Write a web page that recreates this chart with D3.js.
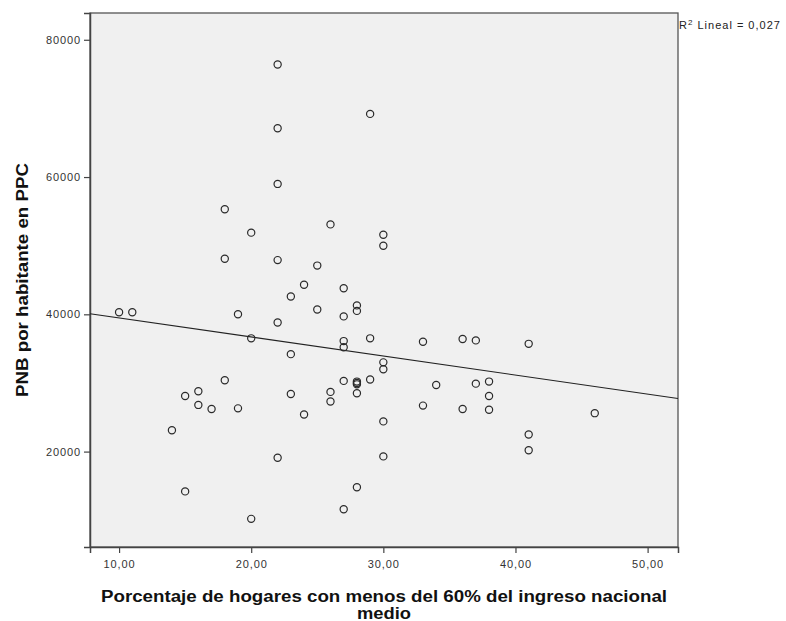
<!DOCTYPE html>
<html>
<head>
<meta charset="utf-8">
<script src="https://cdn.jsdelivr.net/npm/d3@7"></script>
<style>
  body { margin: 0; background: #fff; }
  text { font-family: "Liberation Sans", Arial, sans-serif; }
</style>
</head>
<body>
<div id="scatter"></div>
<script>
// Porcentaje de hogares con menos del 60% del ingreso nacional medio
var pctHogares = [10, 11, 14, 15, 15, 16, 16, 17, 18, 18, 18, 19, 19, 20, 20, 20,
    22, 22, 22, 22, 22, 22, 23, 23, 23, 24, 24, 25, 25, 26, 26, 26,
    27, 27, 27, 27, 27, 27, 28, 28, 28, 28, 28, 28, 28, 29, 29, 29,
    30, 30, 30, 30, 30, 30, 33, 33, 34, 36, 36, 37, 37, 38, 38, 38,
    41, 41, 41, 46];

// PNB por habitante en PPC
var pnbPPC = [40300, 40300, 23100, 28100, 14200, 28800, 26800, 26200, 55300, 48100, 30400, 40000, 26300, 51900, 36500, 10200,
    76400, 67100, 59000, 47900, 38800, 19100, 42600, 34200, 28400, 44300, 25400, 47100, 40700, 53100, 28700, 27300,
    43800, 39700, 36100, 35200, 30300, 11600, 41300, 40500, 30200, 30000, 29800, 28500, 14800, 69200, 36500, 30500,
    51600, 50000, 33000, 32000, 24400, 19300, 36000, 26700, 29700, 36400, 26200, 36200, 29900, 30200, 28100, 26100,
    35700, 22500, 20200, 25600];

var xTicks = [10, 20, 30, 40, 50];
var yTicks = [20000, 40000, 60000, 80000];
var xDomain = [7.8, 52.3];
var yDomain = [6100, 83900];
var r2Label = "0,027";

var margin = { top: 13, right: 108, bottom: 74, left: 90 },
    width = 786 - margin.left - margin.right,
    height = 621 - margin.top - margin.bottom;

var svg = d3.select("#scatter")
    .append("svg")
    .attr("width", 786)
    .attr("height", 621)
    .append("g")
    .attr("transform", "translate(" + margin.left + "," + margin.top + ")");

var x = d3.scaleLinear().domain(xDomain).range([0, width]);
var y = d3.scaleLinear().domain(yDomain).range([height, 0]);

// plot background
svg.append("rect")
    .attr("width", width)
    .attr("height", height)
    .attr("fill", "#f0f0f0")
    .attr("stroke", "#555")
    .attr("stroke-width", 1.3);

var commaFmt = function(d) { return d3.format(".2f")(d).replace(".", ","); };

// X axis
var xAxis = svg.append("g")
    .attr("transform", "translate(0," + height + ")")
    .call(d3.axisBottom(x).tickValues(xTicks).tickFormat(commaFmt).tickSize(6).tickPadding(7));

// Y axis
var yAxis = svg.append("g")
    .call(d3.axisLeft(y).tickValues(yTicks).tickFormat(d3.format("d")).tickSize(6).tickPadding(3));

[xAxis, yAxis].forEach(function(a) {
    a.select(".domain").attr("stroke", "#444").attr("stroke-width", 1.5);
    a.selectAll(".tick line").attr("stroke", "#444").attr("stroke-width", 1.2);
    a.selectAll(".tick text")
        .attr("fill", "#333")
        .style("font-size", "11px")
        .style("letter-spacing", "0.9px");
});

// fit line (least squares)
var n = pctHogares.length;
var mx = d3.mean(pctHogares), my = d3.mean(pnbPPC);
var sxy = 0, sxx = 0;
for (var i = 0; i < n; i++) {
    sxy += (pctHogares[i] - mx) * (pnbPPC[i] - my);
    sxx += (pctHogares[i] - mx) * (pctHogares[i] - mx);
}
var slope = sxy / sxx, intercept = my - slope * mx;

svg.append("line")
    .attr("x1", x(xDomain[0]))
    .attr("y1", y(intercept + slope * xDomain[0]))
    .attr("x2", x(xDomain[1]))
    .attr("y2", y(intercept + slope * xDomain[1]))
    .attr("stroke", "#222")
    .attr("stroke-width", 1.1);

// points
svg.selectAll("circle.pt")
    .data(pctHogares.map(function(d, i) { return { x: d, y: pnbPPC[i] }; }))
    .enter()
    .append("circle")
    .attr("class", "pt")
    .attr("cx", function(d) { return x(d.x); })
    .attr("cy", function(d) { return y(d.y); })
    .attr("r", 3.6)
    .attr("fill", "none")
    .attr("stroke", "#2a2a2a")
    .attr("stroke-width", 1.2);

// R2 label
var r2 = svg.append("text")
    .attr("x", width + 1)
    .attr("y", 16)
    .attr("fill", "#222")
    .style("font-size", "11px")
    .style("letter-spacing", "1px");
r2.append("tspan").text("R");
r2.append("tspan").attr("dy", -4).style("font-size", "8px").text("2");
r2.append("tspan").attr("dy", 4).text(" Lineal = " + r2Label);

// axis titles
var xt = svg.append("text")
    .attr("text-anchor", "middle")
    .attr("font-weight", "bold")
    .style("font-size", "16px")
    .attr("fill", "#111");
xt.append("tspan").attr("x", width / 2).attr("y", height + 55)
    .attr("textLength", 566).attr("lengthAdjust", "spacingAndGlyphs")
    .text("Porcentaje de hogares con menos del 60% del ingreso nacional");
xt.append("tspan").attr("x", width / 2).attr("y", height + 72)
    .attr("textLength", 54).attr("lengthAdjust", "spacingAndGlyphs")
    .text("medio");

svg.append("text")
    .attr("transform", "translate(" + (-62) + "," + (height / 2) + ")rotate(-90)")
    .attr("text-anchor", "middle")
    .attr("font-weight", "bold")
    .style("font-size", "16px")
    .attr("fill", "#111")
    .attr("textLength", 234).attr("lengthAdjust", "spacingAndGlyphs")
    .text("PNB por habitante en PPC");
</script>
</body>
</html>
